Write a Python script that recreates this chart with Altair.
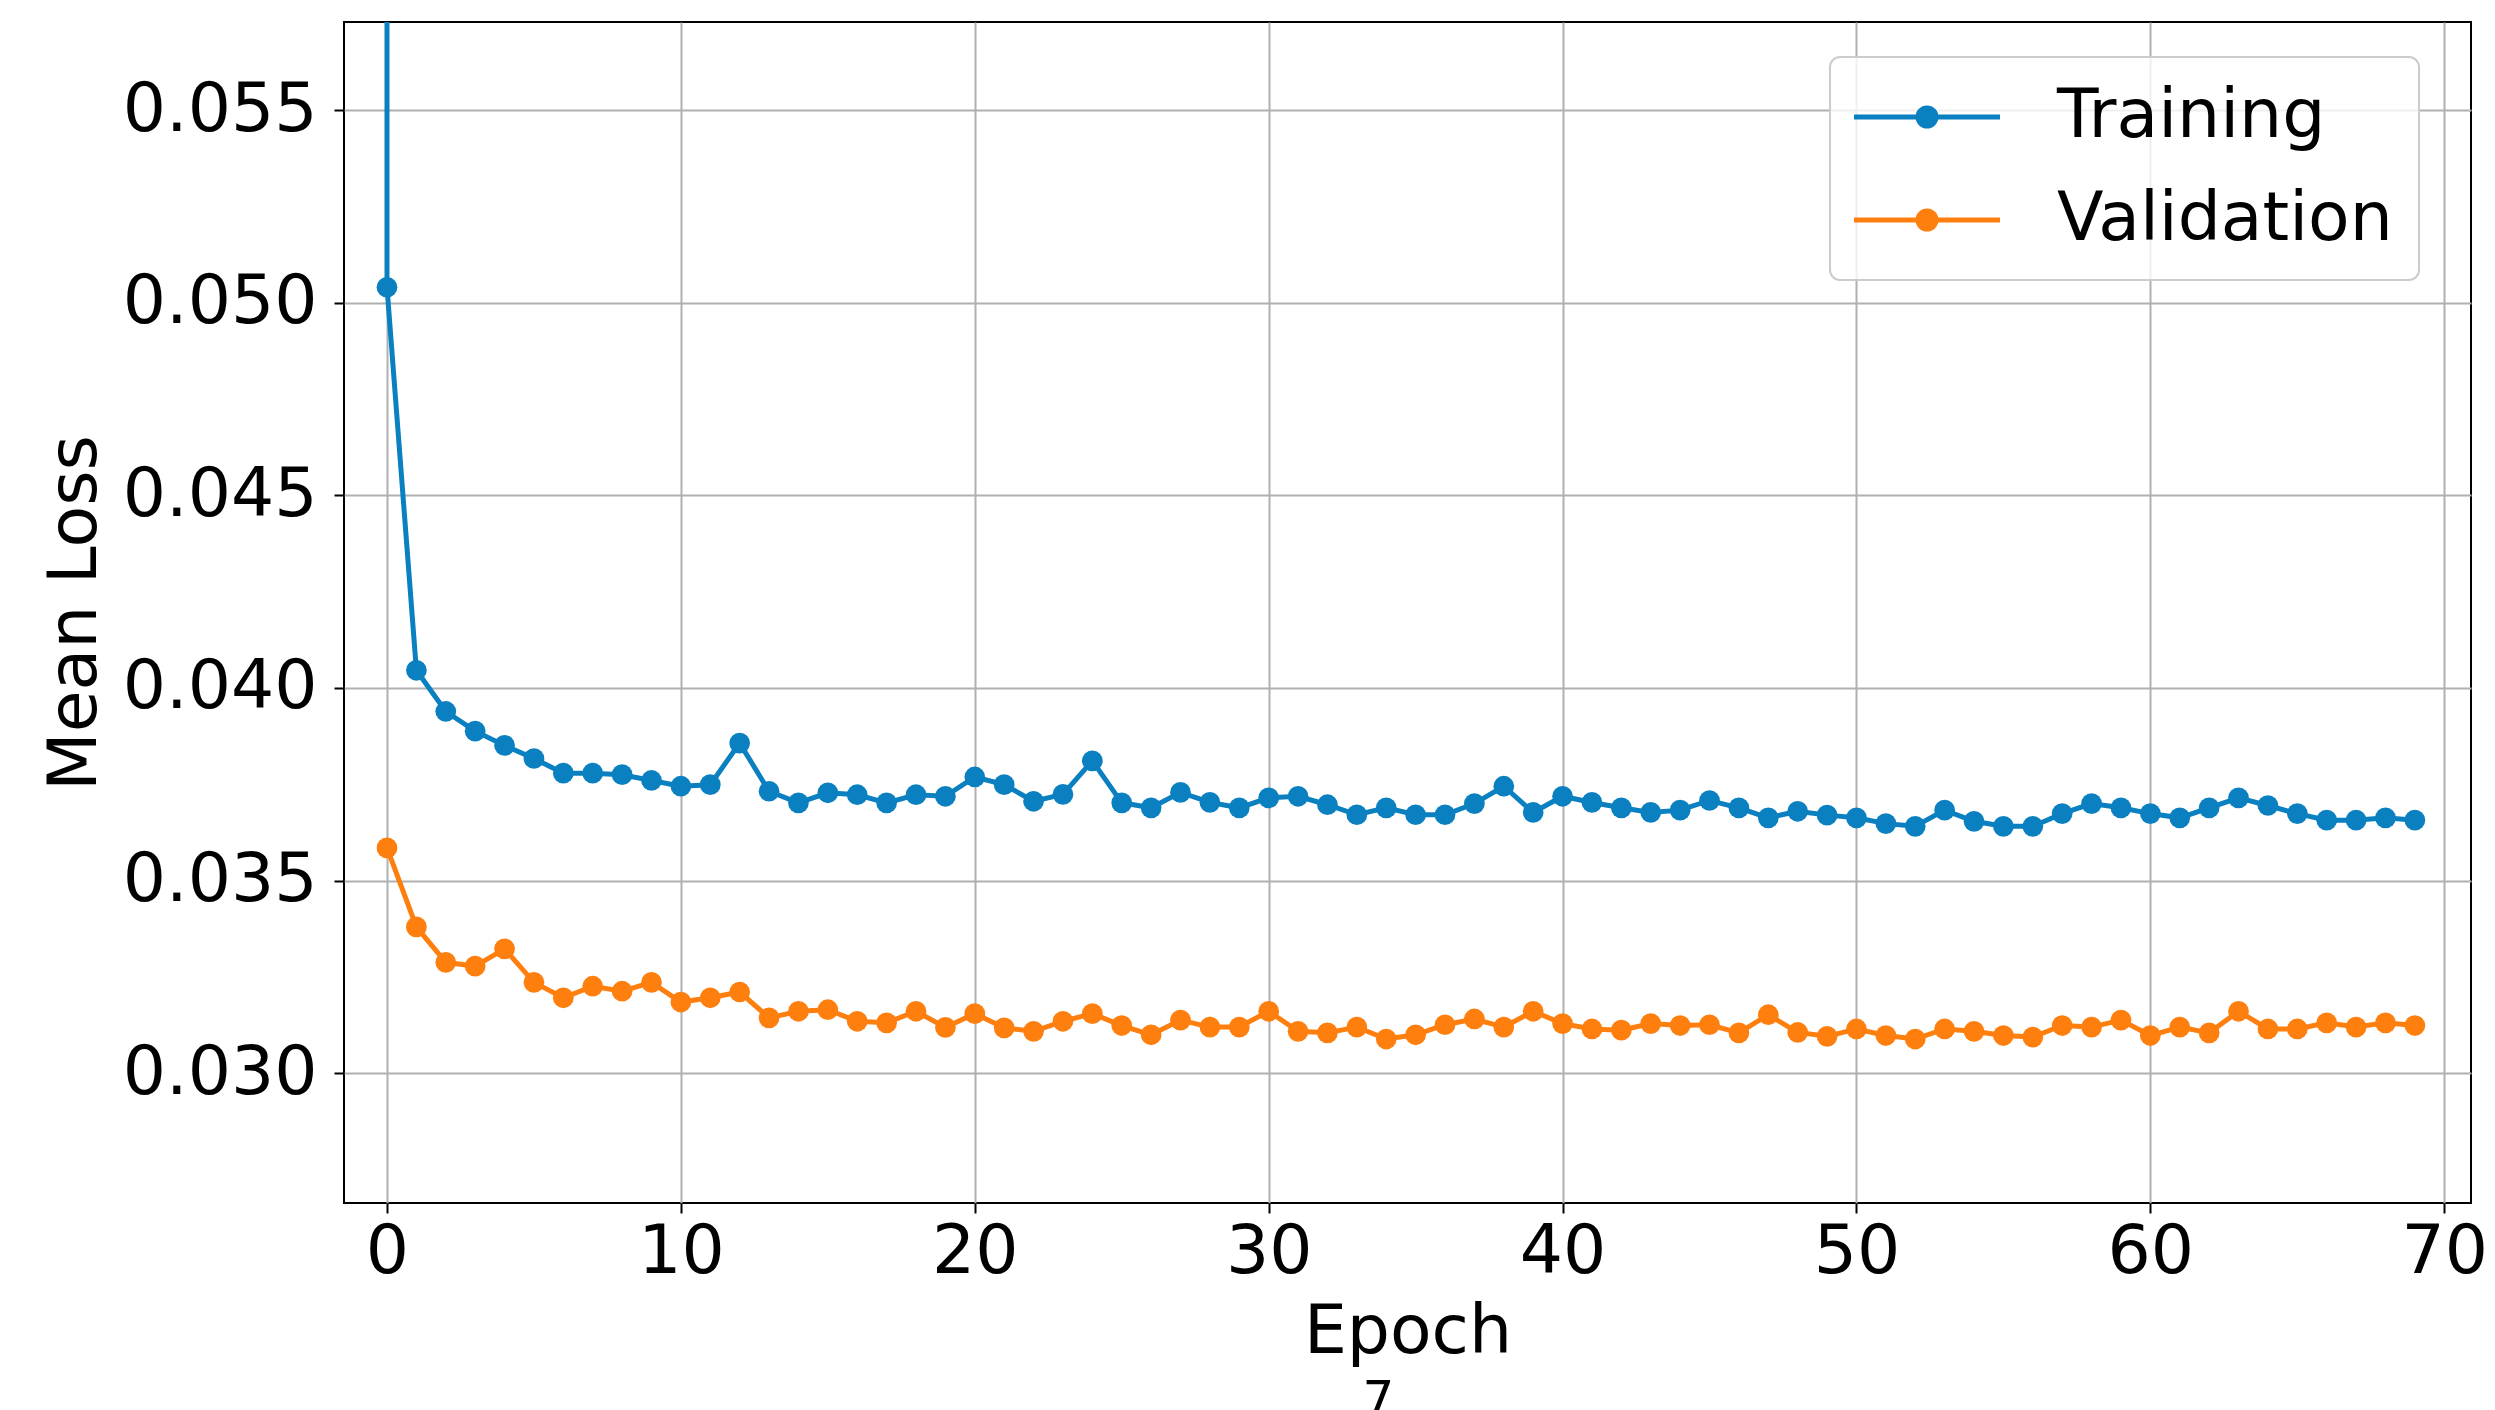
import altair as alt
import pandas as pd

# ---------------- data ----------------
epochs = list(range(70))
train_start = 0.080  # first logged training loss at epoch 0, far above the visible range
train_loss = [
    0.05040, 0.04046, 0.03939, 0.03888, 0.03851, 0.03817, 0.03779, 0.03779, 0.03775, 0.03760,
    0.03745, 0.03749, 0.03857, 0.03732, 0.03702, 0.03728, 0.03723, 0.03702, 0.03723, 0.03719,
    0.03769, 0.03749, 0.03706, 0.03724, 0.03811, 0.03702, 0.03689, 0.03729, 0.03703, 0.03689,
    0.03715, 0.03719, 0.03697, 0.03671, 0.03689, 0.03671, 0.03671, 0.03700, 0.03745, 0.03677,
    0.03719, 0.03703, 0.03689, 0.03677, 0.03683, 0.03708, 0.03689, 0.03663, 0.03680, 0.03670,
    0.03663, 0.03648, 0.03641, 0.03683, 0.03654, 0.03641, 0.03641, 0.03674, 0.03700, 0.03689,
    0.03674, 0.03663, 0.03689, 0.03715, 0.03695, 0.03674, 0.03657, 0.03657, 0.03663, 0.03657,
]
val_loss = [
    0.03585, 0.03380, 0.03288, 0.03278, 0.03323, 0.03236, 0.03196, 0.03226, 0.03213, 0.03236,
    0.03185, 0.03196, 0.03211, 0.03144, 0.03161, 0.03165, 0.03135, 0.03131, 0.03161, 0.03119,
    0.03155, 0.03118, 0.03109, 0.03135, 0.03155, 0.03124, 0.03100, 0.03138, 0.03120, 0.03120,
    0.03161, 0.03109, 0.03105, 0.03120, 0.03089, 0.03100, 0.03126, 0.03141, 0.03120, 0.03161,
    0.03129, 0.03115, 0.03112, 0.03129, 0.03124, 0.03126, 0.03105, 0.03152, 0.03106, 0.03096,
    0.03115, 0.03098, 0.03089, 0.03115, 0.03109, 0.03098, 0.03094, 0.03124, 0.03120, 0.03138,
    0.03098, 0.03120, 0.03105, 0.03161, 0.03115, 0.03115, 0.03131, 0.03120, 0.03131, 0.03124,
]
series_names = ["Training", "Validation"]
series_colors = ["#0a80c0", "#ff7f0e"]
x_ticks = [0, 10, 20, 30, 40, 50, 60, 70]
y_ticks = [0.030, 0.035, 0.040, 0.045, 0.050, 0.055]
x_domain = [-1.463, 70.91]
y_domain = [0.026634, 0.057284]
page_label = "7"

# ---------------- table ----------------
rows = [{"epoch": 0, "loss": train_start, "series": "Training", "step": 0}]
for i, (e, v) in enumerate(zip(epochs, train_loss)):
    rows.append({"epoch": e, "loss": v, "series": "Training", "step": i + 1})
for i, (e, v) in enumerate(zip(epochs, val_loss)):
    rows.append({"epoch": e, "loss": v, "series": "Validation", "step": i})
df = pd.DataFrame(rows)

FONT = "DejaVu Sans"
FS = 68
LW = 5


def circ(r):
    return f"M{-r},0A{r},{r},0,1,1,{r},0A{r},{r},0,1,1,{-r},0Z"


# legend glyph: a line with a dot in the middle (1 unit = 10 px at symbolSize 400)
legend_path = "M-7.3,0L7.3,0" + circ(0.9) + circ(0.55) + circ(0.2)

x_enc = alt.X(
    "epoch:Q",
    scale=alt.Scale(domain=x_domain, nice=False, zero=False),
    axis=alt.Axis(values=x_ticks, format="d", title="Epoch", labelPadding=5, titlePadding=12),
)
y_enc = alt.Y(
    "loss:Q",
    scale=alt.Scale(domain=y_domain, nice=False, zero=False),
    axis=alt.Axis(
        values=y_ticks, format=".3f", title="Mean Loss", labelPadding=17,
        titleX=-249, titleY=590.5, titleAngle=270, titleAlign="center", titleBaseline="alphabetic",
    ),
)
color_scale = alt.Scale(domain=series_names, range=series_colors)

legend = alt.Legend(
    title=None,
    orient="none",
    legendX=1486,
    legendY=35,
    symbolType=legend_path,
    symbolSize=400,
    symbolStrokeWidth=LW,
    symbolOpacity=1,
    symbolOffset=37,
    labelFont=FONT,
    labelFontSize=FS,
    labelColor="black",
    labelLimit=2000,
    labelOffset=96,
    padding=26,
    rowPadding=35,
    strokeColor="#cccccc",
    fillColor="rgba(255,255,255,0.8)",
    cornerRadius=10,
)

base = alt.Chart(df)
lines = base.mark_line(strokeWidth=LW, clip=True).encode(
    x=x_enc,
    y=y_enc,
    color=alt.Color("series:N", scale=color_scale, legend=legend),
    order="step:Q",
)
points = base.mark_circle(size=430, opacity=1, clip=True).encode(
    x=x_enc,
    y=y_enc,
    color=alt.Color("series:N", scale=color_scale, legend=None),
)

chart = (
    alt.layer(lines, points)
    .properties(
        width=2127,
        height=1181,
        background="white",
        autosize=alt.AutoSizeParams(type="none"),
        padding={"left": 344, "top": 22, "right": 24, "bottom": 207},
        title=alt.TitleParams(
            text=page_label, orient="bottom", anchor="middle", dx=-29, offset=10,
            font=FONT, fontSize=50, fontWeight="normal", color="black",
        ),
    )
    .configure_view(stroke="black", strokeWidth=2)
    .configure_legend(strokeWidth=2)
    .configure_axis(
        domain=False,
        grid=True,
        gridColor="#b0b0b0",
        gridWidth=2,
        tickColor="black",
        tickWidth=2,
        tickSize=10,
        labelFont=FONT,
        labelFontSize=FS,
        labelColor="black",
        labelLimit=1000,
        titleFont=FONT,
        titleFontSize=FS,
        titleFontWeight="normal",
        titleColor="black",
    )
)

chart.save("out.html", embed_options={"renderer": "svg", "actions": False})
